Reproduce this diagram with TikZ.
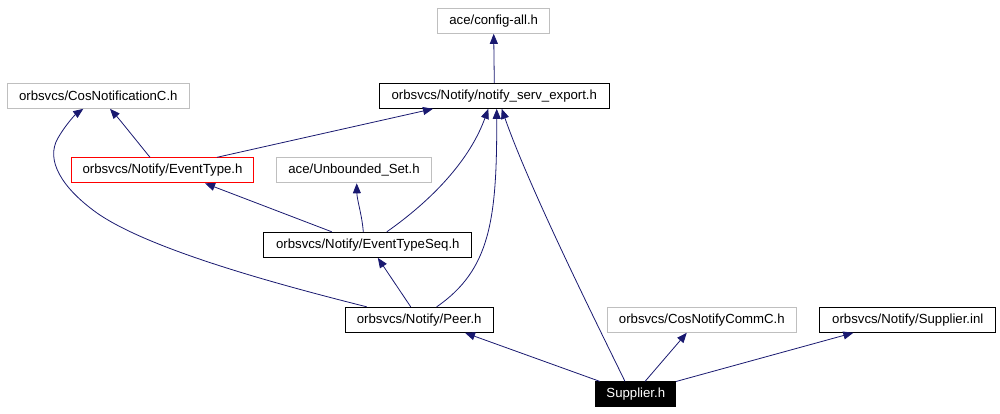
\documentclass[tikz,border=0pt]{standalone}
\usepackage{fontspec}
\setmainfont{Liberation Sans}
\usetikzlibrary{arrows.meta}
\definecolor{edgeblue}{HTML}{191970}
\definecolor{boxgray}{HTML}{BFBFBF}
\begin{document}
\begin{tikzpicture}[x=1pt,y=-1pt,
  box/.style={draw=black,line width=1pt,minimum height=25pt,inner sep=0pt,font=\fontsize{13.2}{15}\selectfont},
  graybox/.style={box,draw=boxgray},
  redbox/.style={box,draw=red},
  rootbox/.style={box,fill=black,text=white},
  edge/.style={draw=edgeblue,line width=0.8pt,-{Triangle[length=10pt,width=8pt]}}]
\useasboundingbox (0,0) rectangle (1000,413);
\node[graybox,minimum width=112pt] (cfg) at (493.7,20.8) {ace/config-all.h};
\node[graybox,minimum width=182pt] (cosN) at (98.3,95.8) {orbsvcs/CosNotificationC.h};
\node[box,minimum width=230pt] (nse) at (494.3,95.8) {orbsvcs/Notify/notify\_serv\_export.h};
\node[redbox,minimum width=182.4pt] (evt) at (162.5,170.3) {orbsvcs/Notify/EventType.h};
\node[graybox,minimum width=155.4pt] (ubs) at (354,170.3) {ace/Unbounded\_Set.h};
\node[box,minimum width=207.7pt] (ets) at (367.8,244.8) {orbsvcs/Notify/EventTypeSeq.h};
\node[box,minimum width=148.3pt] (peer) at (419.2,319.8) {orbsvcs/Notify/Peer.h};
\node[graybox,minimum width=189pt] (cnc) at (701.8,319.8) {orbsvcs/CosNotifyCommC.h};
\node[box,minimum width=175.7pt] (sinl) at (907.8,319.8) {orbsvcs/Notify/Supplier.inl};
\node[rootbox,minimum width=79.7pt,minimum height=24.7pt] (sup) at (635.8,394.3) {Supplier.h};
% edges
\draw[edge] (nse.north) -- (cfg.south);
\draw[edge] ([xshift=-12.5pt]evt.north) .. controls (140,145) and (120,120) .. ([xshift=11.7pt]cosN.south);
\draw[edge] ([xshift=54.5pt]evt.north) -- ([xshift=-61.3pt]nse.south);
\draw[edge] ([xshift=-52.5pt]peer.north) .. controls (280,285) and (150,250) .. (97,213)
  .. controls (62,188) and (45,160) .. (58,138) .. controls (66,124) and (76,114) .. ([xshift=-15pt]cosN.south);
\draw[edge] ([xshift=-36pt]ets.north) -- ([xshift=42.5pt]evt.south);
\draw[edge] ([xshift=-4.5pt]ets.north) .. controls (362,215) and (357,200) .. ([xshift=2.7pt]ubs.south);
\draw[edge] ([xshift=19pt]ets.north) .. controls (425,205) and (468,165) .. ([xshift=-6pt]nse.south);
\draw[edge] ([xshift=-8.5pt]peer.north) -- ([xshift=10pt]ets.south);
\draw[edge] ([xshift=17.5pt]peer.north) .. controls (490,270) and (497,220) .. ([xshift=2.4pt]nse.south);
\draw[edge] ([xshift=-10.8pt]sup.north) .. controls (600,330) and (530,190) .. ([xshift=7.4pt]nse.south);
\draw[edge] ([xshift=-35.8pt]sup.north) -- ([xshift=45.8pt]peer.south);
\draw[edge] ([xshift=9.2pt]sup.north) -- ([xshift=-15pt]cnc.south);
\draw[edge] (sup.north east) -- ([xshift=-54.5pt]sinl.south);
\end{tikzpicture}
\end{document}
